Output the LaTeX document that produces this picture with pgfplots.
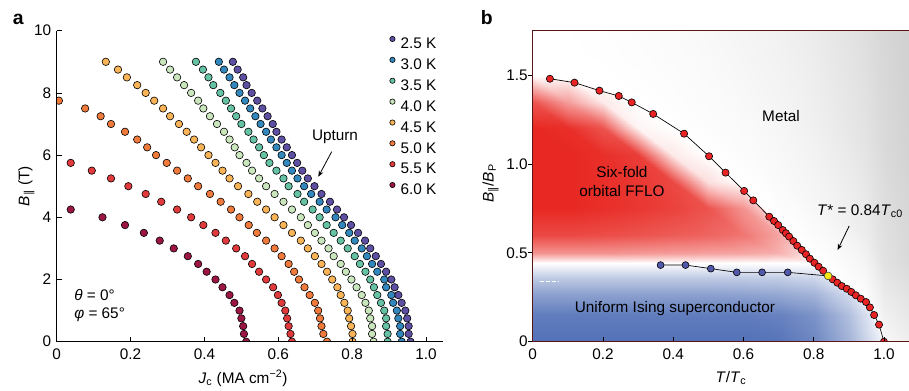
\documentclass[border=0pt]{standalone}
\usepackage{fontspec}
\setmainfont{Liberation Sans}
\newfontfamily\djv{DejaVu Sans}
\usepackage{pgfplots}
\pgfplotsset{compat=1.18}
\usepackage{pgfplotstable}
\usetikzlibrary{arrows.meta}
\newcommand\fs{\fontsize{11.5}{14}\selectfont}
\newcommand\pll{\textsubscript{{\djv ∥}}}
\definecolor{c25}{RGB}{94,79,162}
\definecolor{c30}{RGB}{50,136,189}
\definecolor{c35}{RGB}{102,194,165}
\definecolor{c40}{RGB}{202,230,188}
\definecolor{c45}{RGB}{250,180,88}
\definecolor{c50}{RGB}{240,122,60}
\definecolor{c55}{RGB}{225,58,60}
\definecolor{c60}{RGB}{155,22,68}
\definecolor{redpt}{RGB}{232,36,36}
\definecolor{bluept}{RGB}{82,88,170}
\definecolor{yelpt}{RGB}{245,232,20}
\definecolor{fr}{RGB}{90,22,22}
\pgfplotsset{
 colormap={bwr}{rgb255(0cm)=(52,88,170); rgb255(1cm)=(255,255,255); rgb255(2cm)=(232,40,34)},
 colormap={metal}{rgb255(0cm)=(255,255,255); rgb255(1cm)=(208,208,208)}
}
% ---------- panel a data ----------
\pgfplotstableread{
x y
0.477 9.0
0.490 8.75
0.505 8.5
0.514 8.25
0.528 8.0
0.543 7.75
0.557 7.5
0.571 7.25
0.585 7.0
0.595 6.75
0.609 6.5
0.623 6.25
0.637 6.0
0.651 5.75
0.665 5.5
0.680 5.25
0.698 5.0
0.717 4.75
0.740 4.5
0.759 4.25
0.778 4.0
0.797 3.75
0.816 3.5
0.835 3.25
0.849 3.0
0.864 2.75
0.878 2.5
0.892 2.25
0.906 2.0
0.915 1.75
0.925 1.5
0.934 1.25
0.944 1.0
0.949 0.75
0.953 0.5
0.953 0.25
0.958 0
}\tA
\pgfplotstableread{
x y
0.439 9.0
0.453 8.75
0.468 8.5
0.481 8.25
0.495 8.0
0.510 7.75
0.524 7.5
0.538 7.25
0.552 7.0
0.567 6.75
0.580 6.5
0.595 6.25
0.609 6.0
0.623 5.75
0.637 5.5
0.652 5.25
0.670 5.0
0.689 4.75
0.712 4.5
0.731 4.25
0.755 4.0
0.773 3.75
0.792 3.5
0.807 3.25
0.826 3.0
0.840 2.75
0.854 2.5
0.868 2.25
0.887 2.0
0.892 1.75
0.906 1.5
0.911 1.25
0.921 1.0
0.925 0.75
0.930 0.5
0.930 0.25
0.934 0
}\tB
\pgfplotstableread{
x y
0.377 9.0
0.396 8.75
0.411 8.5
0.424 8.25
0.443 8.0
0.458 7.75
0.472 7.5
0.486 7.25
0.500 7.0
0.519 6.75
0.533 6.5
0.548 6.25
0.561 6.0
0.576 5.75
0.595 5.5
0.614 5.25
0.628 5.0
0.652 4.75
0.670 4.5
0.693 4.25
0.712 4.0
0.731 3.75
0.750 3.5
0.769 3.25
0.788 3.0
0.807 2.75
0.821 2.5
0.836 2.25
0.849 2.0
0.859 1.75
0.868 1.5
0.878 1.25
0.887 1.0
0.892 0.75
0.892 0.5
0.896 0.25
0.896 0
}\tC
\pgfplotstableread{
x y
0.288 9.0
0.307 8.75
0.326 8.5
0.345 8.25
0.364 8.0
0.383 7.75
0.397 7.5
0.415 7.25
0.434 7.0
0.453 6.75
0.468 6.5
0.482 6.25
0.495 6.0
0.514 5.75
0.529 5.5
0.548 5.25
0.567 5.0
0.590 4.75
0.614 4.5
0.637 4.25
0.661 4.0
0.680 3.75
0.699 3.5
0.717 3.25
0.736 3.0
0.750 2.75
0.769 2.5
0.783 2.25
0.798 2.0
0.812 1.75
0.826 1.5
0.836 1.25
0.845 1.0
0.849 0.75
0.854 0.5
0.854 0.25
0.858 0
}\tD
\pgfplotstableread{
x y
0.133 9.0
0.166 8.75
0.190 8.5
0.218 8.25
0.241 8.0
0.264 7.75
0.288 7.5
0.307 7.25
0.331 7.0
0.352 6.75
0.372 6.5
0.391 6.25
0.411 6.0
0.430 5.75
0.449 5.5
0.468 5.25
0.491 5.0
0.519 4.75
0.543 4.5
0.567 4.25
0.590 4.0
0.614 3.75
0.637 3.5
0.661 3.25
0.680 3.0
0.699 2.75
0.717 2.5
0.732 2.25
0.746 2.0
0.760 1.75
0.769 1.5
0.779 1.25
0.788 1.0
0.792 0.75
0.797 0.5
0.801 0.25
0.801 0
}\tE
\pgfplotstableread{
x y
0.006 7.75
0.077 7.5
0.119 7.25
0.147 7.0
0.185 6.75
0.218 6.5
0.245 6.25
0.269 6.0
0.298 5.75
0.326 5.5
0.355 5.25
0.383 5.0
0.415 4.75
0.444 4.5
0.472 4.25
0.495 4.0
0.520 3.75
0.542 3.5
0.567 3.25
0.590 3.0
0.609 2.75
0.628 2.5
0.643 2.25
0.656 2.0
0.671 1.75
0.685 1.5
0.699 1.25
0.708 1.0
0.713 0.75
0.717 0.5
0.722 0.25
0.732 0
}\tF
\pgfplotstableread{
x y
0.038 5.75
0.095 5.5
0.147 5.25
0.194 5.0
0.241 4.75
0.283 4.5
0.326 4.25
0.364 4.0
0.397 3.75
0.430 3.5
0.458 3.25
0.486 3.0
0.510 2.75
0.529 2.5
0.548 2.25
0.567 2.0
0.586 1.75
0.599 1.5
0.609 1.25
0.619 1.0
0.624 0.75
0.628 0.5
0.633 0.25
0.637 0
}\tG
\pgfplotstableread{
x y
0.038 4.25
0.124 4.0
0.185 3.75
0.236 3.5
0.279 3.25
0.317 3.0
0.355 2.75
0.383 2.5
0.406 2.25
0.430 2.0
0.449 1.75
0.468 1.5
0.481 1.25
0.495 1.0
0.500 0.75
0.505 0.5
0.507 0.25
0.513 0
}\tH
% ---------- panel b data ----------
\pgfplotstableread{
x y
0.049 1.479
0.119 1.457
0.190 1.412
0.245 1.382
0.282 1.346
0.343 1.281
0.431 1.170
0.502 1.043
0.549 0.951
0.602 0.848
0.628 0.795
0.6735 0.703
0.687 0.679
0.699 0.656
0.712 0.628
0.721 0.610
0.730 0.591
0.742 0.566
0.753 0.540
0.766 0.516
0.778 0.492
0.789 0.467
0.802 0.444
0.814 0.422
0.827 0.399
0.841 0.370
0.854 0.351
0.867 0.332
0.880 0.313
0.894 0.298
0.907 0.280
0.920 0.261
0.934 0.242
0.949 0.223
0.960 0.193
0.972 0.150
0.986 0.096
1.000 0.0
}\tRed
\pgfplotstableread{
x y
0.364 0.431
0.435 0.431
0.507 0.411
0.581 0.390
0.653 0.390
0.726 0.390
0.841 0.370
}\tBlue
% background field: -1 blue, 0 white, +1 red
\pgfplotstableread{
x y v
0 0 -0.85
0.1 0 -0.85
0.2 0 -0.85
0.3 0 -0.85
0.4 0 -0.85
0.5 0 -0.85
0.6 0 -0.85
0.7 0 -0.83
0.8 0 -0.72
0.9 0 -0.45
1.0 0 -0.05
1.075 0 0
0 0.15 -0.78
0.1 0.15 -0.78
0.2 0.15 -0.78
0.3 0.15 -0.78
0.4 0.15 -0.78
0.5 0.15 -0.78
0.6 0.15 -0.78
0.7 0.15 -0.75
0.8 0.15 -0.65
0.9 0.15 -0.38
1.0 0.15 0
1.075 0.15 0
0 0.27 -0.56
0.1 0.27 -0.56
0.2 0.27 -0.56
0.3 0.27 -0.56
0.4 0.27 -0.56
0.5 0.27 -0.56
0.6 0.27 -0.55
0.7 0.27 -0.52
0.8 0.27 -0.45
0.9 0.27 -0.22
1.0 0.27 0
1.075 0.27 0
0 0.36 -0.32
0.1 0.36 -0.32
0.2 0.36 -0.32
0.3 0.36 -0.32
0.4 0.36 -0.32
0.5 0.36 -0.32
0.6 0.36 -0.31
0.7 0.36 -0.30
0.8 0.36 -0.25
0.9 0.36 -0.08
1.0 0.36 0
1.075 0.36 0
0 0.44 0
0.1 0.44 0
0.2 0.44 0
0.3 0.44 0
0.4 0.44 0
0.5 0.44 0
0.6 0.44 0
0.7 0.44 0
0.8 0.44 0
0.9 0.44 0
1.0 0.44 0
1.075 0.44 0
0 0.5 0.5
0.1 0.5 0.5
0.2 0.5 0.5
0.3 0.5 0.48
0.4 0.5 0.46
0.5 0.5 0.44
0.6 0.5 0.42
0.7 0.5 0.36
0.8 0.5 0.10
0.9 0.5 0
1.0 0.5 0
1.075 0.5 0
0 0.6 0.85
0.1 0.6 0.85
0.2 0.6 0.83
0.3 0.6 0.80
0.4 0.6 0.76
0.5 0.6 0.72
0.6 0.6 0.64
0.7 0.6 0.42
0.8 0.6 0
0.9 0.6 0
1.0 0.6 0
1.075 0.6 0
0 0.75 1
0.1 0.75 1
0.2 0.75 0.97
0.3 0.75 0.93
0.4 0.75 0.88
0.5 0.75 0.80
0.6 0.75 0.50
0.7 0.75 0
0.8 0.75 0
0.9 0.75 0
1.0 0.75 0
1.075 0.75 0
0 0.9 1
0.1 0.9 1
0.2 0.9 0.97
0.3 0.9 0.93
0.4 0.9 0.85
0.5 0.9 0.15
0.6 0.9 0
0.7 0.9 0
0.8 0.9 0
0.9 0.9 0
1.0 0.9 0
1.075 0.9 0
0 1.05 1
0.1 1.05 1
0.2 1.05 0.97
0.3 1.05 0.90
0.4 1.05 0.10
0.5 1.05 0
0.6 1.05 0
0.7 1.05 0
0.8 1.05 0
0.9 1.05 0
1.0 1.05 0
1.075 1.05 0
0 1.2 1
0.1 1.2 0.97
0.2 1.2 0.80
0.3 1.2 0.05
0.4 1.2 0
0.5 1.2 0
0.6 1.2 0
0.7 1.2 0
0.8 1.2 0
0.9 1.2 0
1.0 1.2 0
1.075 1.2 0
0 1.35 0.80
0.1 1.35 0.45
0.2 1.35 0.10
0.3 1.35 0
0.4 1.35 0
0.5 1.35 0
0.6 1.35 0
0.7 1.35 0
0.8 1.35 0
0.9 1.35 0
1.0 1.35 0
1.075 1.35 0
0 1.5 0
0.1 1.5 0
0.2 1.5 0
0.3 1.5 0
0.4 1.5 0
0.5 1.5 0
0.6 1.5 0
0.7 1.5 0
0.8 1.5 0
0.9 1.5 0
1.0 1.5 0
1.075 1.5 0
0 1.75 0
0.1 1.75 0
0.2 1.75 0
0.3 1.75 0
0.4 1.75 0
0.5 1.75 0
0.6 1.75 0
0.7 1.75 0
0.8 1.75 0
0.9 1.75 0
1.0 1.75 0
1.075 1.75 0
}\tBg
% metal overlay mesh above the boundary: -1 white, +1 grey
\pgfplotstableread{
x y g
0 1.5 -1
0.1 1.47 -1
0.2 1.415 -1
0.3 1.335 -1
0.4 1.215 -1
0.5 1.055 -1
0.6 0.86 -1
0.7 0.66 -1
0.8 0.455 -1
0.9 0.295 -0.96
0.95 0.225 -0.94
1.0 0 -0.7
1.075 0 -0.3
0 1.5625 -1
0.1 1.54 -1
0.2 1.499 -1
0.3 1.439 -0.96
0.4 1.349 -0.92
0.5 1.229 -0.88
0.6 1.083 -0.84
0.7 0.933 -0.76
0.8 0.779 -0.64
0.9 0.659 -0.40
0.95 0.606 -0.20
1.0 0.4375 0.20
1.075 0.4375 0.60
0 1.65 -1
0.1 1.638 -1
0.2 1.616 -0.96
0.3 1.584 -0.92
0.4 1.536 -0.86
0.5 1.472 -0.80
0.6 1.394 -0.70
0.7 1.314 -0.56
0.8 1.232 -0.36
0.9 1.168 0.0
0.95 1.14 0.20
1.0 1.05 0.56
1.075 1.05 0.90
0 1.75 -1
0.1 1.75 -0.98
0.2 1.75 -0.94
0.3 1.75 -0.88
0.4 1.75 -0.80
0.5 1.75 -0.70
0.6 1.75 -0.56
0.7 1.75 -0.40
0.8 1.75 -0.16
0.9 1.75 0.20
0.95 1.75 0.40
1.0 1.75 0.70
1.075 1.75 1.0
}\tMetal
\begin{document}
\begin{tikzpicture}
% ================= panel a =================
\begin{axis}[
 at={(42.525pt,36.225pt)}, anchor=south west, scale only axis,
 width=290pt, height=233.25pt,
 xmin=0, xmax=1.047, ymin=0, ymax=10,
 axis lines*=left, axis line style={-, line width=0.6pt},
 axis on top, clip marker paths=true,
 tick align=inside, major tick length=3.75pt,
 tick style={black, line width=0.6pt},
 xtick={0,0.2,0.4,0.6,0.8,1.0}, xticklabels={0,0.2,0.4,0.6,0.8,1.0},
 ytick={0,2,4,6,8,10}, yticklabels={0,2,4,6,8,10},
 /pgf/number format/assume math mode=true,
 tick label style={font=\fs},
 xticklabel style={yshift=-1.7pt},
 yticklabel style={xshift=-0.7pt},
 every axis x label/.style={at={(axis description cs:0.482,-0.134)}, anchor=base},
 every axis y label/.style={at={(axis description cs:-0.0704,0.5006)}, rotate=90, anchor=base},
 label style={font=\fs},
 xlabel={\textit{J}\textsubscript{c} (MA cm\textsuperscript{−2})},
 ylabel={\textit{B}\pll\ (T)},
 legend style={draw=none, fill=none, at={(axis description cs:0.8614,0.982)}, anchor=north west,
   inner sep=0pt, outer sep=0pt, row sep=4.8pt, font=\fs,
   /tikz/every odd column/.style={column sep=4.1pt},
   nodes={inner sep=0pt}},
 legend cell align=left,
 legend image code/.code={\draw[#1, mark size=2pt] plot coordinates {(0pt,4.1pt)};},
 every axis plot/.append style={only marks, mark=*, mark size=2.8pt},
]
\addplot[mark options={fill=c25, draw=black, line width=0.45pt}] table {\tA};
\addplot[mark options={fill=c30, draw=black, line width=0.45pt}] table {\tB};
\addplot[mark options={fill=c35, draw=black, line width=0.45pt}] table {\tC};
\addplot[mark options={fill=c40, draw=black, line width=0.45pt}] table {\tD};
\addplot[mark options={fill=c45, draw=black, line width=0.45pt}] table {\tE};
\addplot[mark options={fill=c50, draw=black, line width=0.45pt}] table {\tF};
\addplot[mark options={fill=c55, draw=black, line width=0.45pt}] table {\tG};
\addplot[mark options={fill=c60, draw=black, line width=0.45pt}] table {\tH};
\legend{2.5 K,3.0 K,3.5 K,4.0 K,4.5 K,5.0 K,5.5 K,6.0 K}
\node[font=\fs] at (axis cs:0.7536,6.58) {Upturn};
\draw[-{Stealth[length=4.5pt,width=3.6pt]}, line width=0.6pt] (axis cs:0.7446,6.11) -- (axis cs:0.7084,5.305);
\node[font=\fs, anchor=west, inner sep=0pt] at (axis cs:0.0468,1.50) {\textit{θ} = 0°};
\node[font=\fs, anchor=west, inner sep=0pt] at (axis cs:0.0468,0.86) {\textit{φ} = 65°};
\end{axis}
% ================= panel b =================
\begin{axis}[
 at={(399.525pt,36.225pt)}, anchor=south west, scale only axis,
 width=283.2pt, height=233.36pt,
 xmin=0, xmax=1.075, ymin=0, ymax=1.75,
 point meta min=-1, point meta max=1,
 axis on top, clip marker paths=true,
 axis line style={draw=fr, line width=0.8pt},
 tick align=inside, major tick length=3.75pt,
 tick style={black, line width=0.6pt},
 ytick style={xshift=-3.75pt},
 xtick={0,0.2,0.4,0.6,0.8,1.0}, xticklabels={0,0.2,0.4,0.6,0.8,1.0},
 ytick={0,0.5,1,1.5}, yticklabels={0,0.5,1.0,1.5},
 xtick pos=bottom, ytick pos=left,
 /pgf/number format/assume math mode=true,
 tick label style={font=\fs},
 xticklabel style={yshift=-1.7pt},
 yticklabel style={xshift=-0.3pt},
 every axis x label/.style={at={(axis description cs:0.525,-0.1296)}, anchor=base},
 every axis y label/.style={at={(axis description cs:-0.1038,0.509)}, rotate=90, anchor=base},
 label style={font=\fs},
 xlabel={\textit{T}/\textit{T}\textsubscript{c}},
 ylabel={\textit{B}\pll/\textit{B}\textsubscript{P}},
]
\addplot[surf, shader=interp, mesh/cols=12, colormap name=bwr, point meta=explicit] table[x=x, y=y, meta=v] {\tBg};
\addplot[surf, shader=interp, mesh/cols=13, colormap name=metal, point meta=explicit] table[x=x, y=y, meta=g] {\tMetal};
\draw[white, line width=0.7pt, dash pattern=on 3pt off 1.5pt] (axis cs:0.02,0.337) -- (axis cs:0.075,0.337);
\addplot[black, line width=0.5pt, mark=*, mark size=2.7pt,
  mark options={fill=redpt, draw=black, line width=0.45pt}] table {\tRed};
\addplot[black, line width=0.5pt, mark=*, mark size=2.6pt, mark indices={1,2,3,4,5,6},
  mark options={fill=bluept, draw=black, line width=0.45pt}] table {\tBlue};
\addplot[only marks, mark=*, mark size=2.9pt,
  mark options={fill=yelpt, draw=black!70, line width=0.4pt}] coordinates {(0.841,0.370)};
\node[font=\fs] at (axis cs:0.7068,1.271) {Metal};
\node[font=\fs, align=center] at (axis cs:0.254,0.90) {Six-fold\\orbital FFLO};
\node[font=\fs] at (axis cs:0.405,0.184) {Uniform Ising superconductor};
\node[font=\fs, anchor=west, inner sep=0pt] at (axis cs:0.809,0.735) {\textit{T}* = 0.84\textit{T}\textsubscript{c0}};
\draw[-{Stealth[length=4.5pt,width=3.6pt]}, line width=0.6pt] (axis cs:0.901,0.651) -- (axis cs:0.868,0.516);
\end{axis}
\node[font=\bfseries\fontsize{14.5}{17}\selectfont, anchor=base west, inner sep=0pt] at (9.5pt,273.75pt) {a};
\node[font=\bfseries\fontsize{14.5}{17}\selectfont, anchor=base west, inner sep=0pt] at (360.5pt,273.75pt) {b};
\pgfresetboundingbox
\useasboundingbox (0,0) rectangle (681.75pt,292.5pt);
\end{tikzpicture}
\end{document}
